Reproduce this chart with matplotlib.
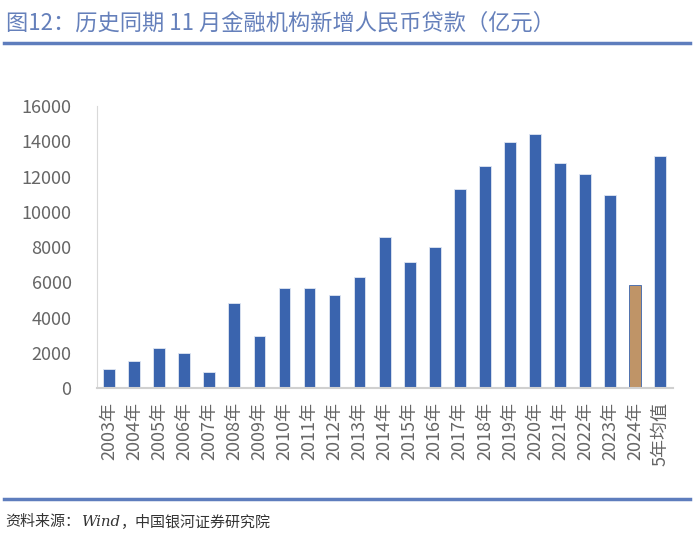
import matplotlib
matplotlib.use("Agg")
import matplotlib.pyplot as plt
from matplotlib.lines import Line2D
import numpy as np

plt.rcParams['font.family'] = ['Noto Sans CJK SC', 'DejaVu Sans']

# data
years = ['2003年', '2004年', '2005年', '2006年', '2007年', '2008年', '2009年', '2010年',
         '2011年', '2012年', '2013年', '2014年', '2015年', '2016年', '2017年', '2018年',
         '2019年', '2020年', '2021年', '2022年', '2023年', '2024年', '5年均值']
loans = [1078, 1532, 2304, 1986, 908, 4823, 2985, 5690,
         5674, 5277, 6298, 8585, 7149, 8000, 11268, 12596,
         13975, 14411, 12783, 12158, 10967, 5844, 13163]
highlight = '2024年'

blue = '#3a64ae'
tan = '#bf9467'

fig = plt.figure(figsize=(7, 5.42), dpi=100)
ax = fig.add_axes([0.138, 0.2836, 0.823, 0.5208])

x = np.arange(len(years))
colors = [tan if y == highlight else blue for y in years]
edges = [blue if y == highlight else '#dfe6f2' for y in years]
ax.bar(x, loans, width=0.47, color=colors, edgecolor=edges, linewidth=0.6)

ax.set_xlim(-0.5, len(years) - 0.5)
ax.set_ylim(0, 16000)
ax.set_yticks(np.arange(0, 16001, 2000))
ax.set_xticks(x)
ax.set_xticklabels(years, rotation=90)

for s in ['top', 'right']:
    ax.spines[s].set_visible(False)
ax.spines['left'].set_color('#d9d9d9')
ax.spines['bottom'].set_color('#d0d0d0')
ax.spines['bottom'].set_linewidth(1.5)
ax.tick_params(axis='y', length=0, pad=18, labelsize=13, labelcolor='#666666')
ax.tick_params(axis='x', length=0, pad=10, labelsize=13, labelcolor='#666666')

# title, header and footer lines
fig.text(0.008, 0.958, '图12：历史同期 11 月金融机构新增人民币贷款（亿元）',
         fontsize=16, color='#6580bb', va='center', ha='left')
fig.add_artist(Line2D([0.005, 0.986], [0.920, 0.920], color='#5e7dbd', lw=2.5))
fig.add_artist(Line2D([0.005, 0.986], [0.079, 0.079], color='#5e7dbd', lw=2.5))

# footer: source text with italic "Wind"
fig.canvas.draw()
renderer = fig.canvas.get_renderer()
parts = [('资料来源：', 'normal', ['Noto Sans CJK SC']),
         ('Wind', 'italic', ['DejaVu Serif']),
         ('，中国银河证券研究院', 'normal', ['Noto Sans CJK SC'])]
xpos = 0.008
for txt, st, fam in parts:
    t = fig.text(xpos, 0.037, txt, fontsize=10.8, color='#333333', va='center',
                 ha='left', style=st, family=fam)
    bb = t.get_window_extent(renderer)
    xpos = bb.x1 / fig.bbox.width

fig.savefig('out.png', dpi=100)
